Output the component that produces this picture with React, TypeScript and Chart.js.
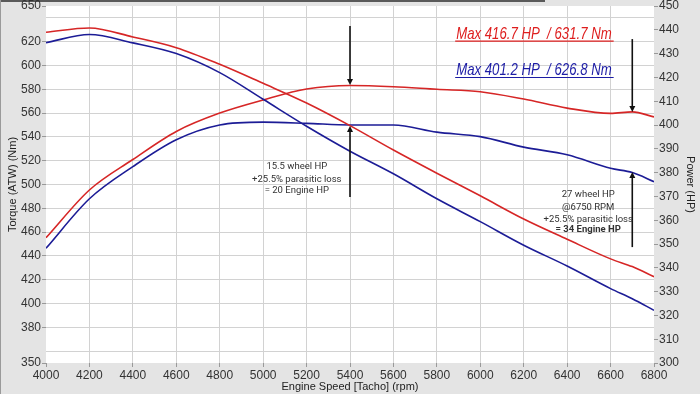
import React, { useEffect, useRef } from "react";
import { Chart, registerables } from "chart.js";

Chart.register(...registerables);

// ---------- data ----------
const rpm = [4000, 4200, 4400, 4600, 4800, 5000, 5200, 5400, 5600, 5800, 6000, 6200, 6400, 6600, 6700, 6800];

const redTorque = [628, 631.5, 624, 615, 601, 585, 568.5, 549.5, 529, 509.5, 490.5, 471, 454, 437.5, 431, 422.5];
const redPower = [352.6, 372.7, 385.5, 397.3, 405, 410.5, 415.1, 416.6, 416.1, 415, 414, 410.9, 407.1, 404.9, 405.5, 403.4];

const blueTorque = [619.2, 626, 619, 610, 594, 571.6, 549, 528, 509, 488, 468.8, 449, 431.5, 412.5, 404, 394.3];
const bluePower = [348.2, 369, 382.5, 393.8, 400, 401.2, 400.7, 400, 400, 397, 395.1, 390.7, 387.5, 381.8, 380, 376.2];

const rpmTicks = [4000, 4200, 4400, 4600, 4800, 5000, 5200, 5400, 5600, 5800, 6000, 6200, 6400, 6600, 6800];
const torqueTickLabels = [350, 380, 400, 420, 440, 460, 480, 500, 520, 540, 560, 580, 600, 620, 650];
const torqueGridLines = [360, 380, 400, 420, 440, 460, 480, 500, 520, 540, 560, 580, 600, 620, 640];
const powerTicks = [300, 310, 320, 330, 340, 350, 360, 370, 380, 390, 400, 410, 420, 430, 440, 450];

// annotations in data units (rpm, HP on right axis)
const arrowRpm = [5400, 5400, 6700, 6700];
const arrowFromHp = [441.6, 369.7, 436.1, 348.7];
const arrowToHp = [416.8, 399.6, 405.5, 380.2];

const note1Lines = ["15.5 wheel HP", "+25.5% parasitic loss", "= 20 Engine HP"];
const note1Rpm = 5155;
const note1Hp = [382.4, 376.9, 372.3];

const note2Lines = ["27 wheel HP", "@6750 RPM", "+25.5% parasitic loss", "= 34 Engine HP"];
const note2Rpm = 6497;
const note2Hp = [370.6, 365.1, 360.1, 355.9];

const legendTexts = ["Max 416.7 HP  / 631.7 Nm", "Max 401.2 HP  / 626.8 Nm"];
const legendRpm = 5889;
const legendEndRpm = 6605;
const legendHp = [436.1, 420.8];

// ---------- styles ----------
const RED = "rgb(214,38,38)";
const BLUE = "rgb(28,28,150)";
const RED_TEXT = "rgb(222,30,30)";
const BLUE_TEXT = "rgb(28,28,165)";
const PAGE_BG = "#e4e4e4";
const GRID = "#d2d2d2";
const TICK_TEXT = "#333333";
const TICK_FONT = { family: "'Liberation Sans', Arial, sans-serif", size: 12 };
const TITLE_FONT = { family: "'Liberation Sans', Arial, sans-serif", size: 11 };

const bgPlugin = {
  id: "bgPlugin",
  beforeDraw(chart: any) {
    const { ctx, width, height, chartArea: a } = chart;
    ctx.save();
    ctx.fillStyle = PAGE_BG;
    ctx.fillRect(0, 0, width, height);
    ctx.fillStyle = "#5a5a5a";
    ctx.fillRect(0, 0, 545, 2);
    ctx.fillStyle = "#9a9a9a";
    ctx.fillRect(0, 0, 1, height);
    ctx.fillStyle = "#ffffff";
    ctx.fillRect(a.left, a.top, a.right - a.left, a.bottom - a.top);
    ctx.restore();
  },
};

const annPlugin = {
  id: "annPlugin",
  afterDatasetsDraw(chart: any) {
    const { ctx } = chart;
    const xs = chart.scales.x;
    const ys = chart.scales.y1;
    ctx.save();
    // arrows
    for (let i = 0; i < arrowRpm.length; i++) {
      const x = xs.getPixelForValue(arrowRpm[i]);
      const y0 = ys.getPixelForValue(arrowFromHp[i]);
      const y1 = ys.getPixelForValue(arrowToHp[i]);
      const dir = y1 > y0 ? 1 : -1;
      ctx.strokeStyle = "#111";
      ctx.fillStyle = "#111";
      ctx.lineWidth = 1.6;
      ctx.beginPath();
      ctx.moveTo(x, y0);
      ctx.lineTo(x, y1 - dir * 4);
      ctx.stroke();
      ctx.beginPath();
      ctx.moveTo(x, y1);
      ctx.lineTo(x - 3, y1 - dir * 6);
      ctx.lineTo(x + 3, y1 - dir * 6);
      ctx.closePath();
      ctx.fill();
    }
    // notes
    ctx.textAlign = "center";
    ctx.textBaseline = "middle";
    ctx.fillStyle = "#333";
    const nx1 = xs.getPixelForValue(note1Rpm);
    note1Lines.forEach((t, i) => {
      ctx.font = "9.5px Roboto, 'Liberation Sans', sans-serif";
      ctx.fillText(t, nx1, ys.getPixelForValue(note1Hp[i]));
    });
    const nx2 = xs.getPixelForValue(note2Rpm);
    note2Lines.forEach((t, i) => {
      ctx.font = (i === note2Lines.length - 1 ? "bold " : "") + "9.5px Roboto, 'Liberation Sans', sans-serif";
      ctx.fillText(t, nx2, ys.getPixelForValue(note2Hp[i]));
    });
    // legend texts (condensed by horizontal scaling)
    const lx = xs.getPixelForValue(legendRpm);
    const lxEnd = xs.getPixelForValue(legendEndRpm);
    const colors = [RED_TEXT, BLUE_TEXT];
    ctx.textAlign = "left";
    ctx.textBaseline = "alphabetic";
    legendTexts.forEach((t, i) => {
      const by = ys.getPixelForValue(legendHp[i]);
      ctx.font = "italic 16.5px 'Liberation Sans', Arial, sans-serif";
      const w = ctx.measureText(t).width;
      const sx = (lxEnd - lx) / w;
      ctx.save();
      ctx.translate(lx, by);
      ctx.scale(sx, 1);
      ctx.fillStyle = colors[i];
      ctx.fillText(t, 0, 0);
      ctx.restore();
      ctx.strokeStyle = colors[i];
      ctx.lineWidth = 1.2;
      ctx.beginPath();
      ctx.moveTo(lx - 1, by + 2);
      ctx.lineTo(lxEnd + 2, by + 2);
      ctx.stroke();
    });
    ctx.restore();
  },
};

export default function App() {
  const ref = useRef<HTMLCanvasElement | null>(null);

  useEffect(() => {
    document.body.style.margin = "0";
    const canvas = ref.current;
    if (!canvas) return;
    const pts = (ys: number[]) => rpm.map((r, i) => ({ x: r, y: ys[i] }));
    const chart = new Chart(canvas, {
      type: "line",
      data: {
        datasets: [
          { label: "Torque red", data: pts(redTorque), yAxisID: "y", borderColor: RED, borderWidth: 1.6, pointRadius: 0, cubicInterpolationMode: "monotone" },
          { label: "Torque blue", data: pts(blueTorque), yAxisID: "y", borderColor: BLUE, borderWidth: 1.6, pointRadius: 0, cubicInterpolationMode: "monotone" },
          { label: "Power red", data: pts(redPower), yAxisID: "y1", borderColor: RED, borderWidth: 1.6, pointRadius: 0, cubicInterpolationMode: "monotone" },
          { label: "Power blue", data: pts(bluePower), yAxisID: "y1", borderColor: BLUE, borderWidth: 1.6, pointRadius: 0, cubicInterpolationMode: "monotone" },
        ],
      },
      options: {
        responsive: false,
        animation: false,
        layout: { padding: { top: 6, left: 0, right: 0, bottom: 0 } },
        plugins: { legend: { display: false }, tooltip: { enabled: false } },
        scales: {
          x: {
            type: "linear",
            min: 4000,
            max: 6800,
            afterBuildTicks: (s: any) => { s.ticks = rpmTicks.map((v) => ({ value: v })); },
            afterFit: (s: any) => { s.height = 31; s.paddingLeft = 0; s.paddingRight = 0; },
            ticks: { font: TICK_FONT, color: TICK_TEXT, padding: 1, maxRotation: 0, autoSkip: false, callback: (v: any) => String(v) },
            grid: {
              color: (c: any) => (c.tick && (c.tick.value === 4000 || c.tick.value === 6800) ? "rgba(0,0,0,0)" : GRID),
              tickColor: "#999",
              tickLength: 4,
            },
            border: { display: false },
            title: { display: true, text: "Engine Speed [Tacho] (rpm)", font: TITLE_FONT, color: "#222", padding: { top: 0, bottom: 0 } },
          },
          y: {
            type: "linear",
            position: "left",
            min: 350,
            max: 650,
            afterBuildTicks: (s: any) => {
              const vals = Array.from(new Set([...torqueTickLabels, ...torqueGridLines])).sort((a, b) => a - b);
              s.ticks = vals.map((v) => ({ value: v }));
            },
            afterFit: (s: any) => { s.width = 46; s.paddingTop = 0; s.paddingBottom = 0; },
            ticks: {
              font: TICK_FONT,
              color: TICK_TEXT,
              padding: 1,
              autoSkip: false,
              callback: (v: any) => (torqueTickLabels.includes(Number(v)) ? String(v) : ""),
            },
            grid: {
              color: (c: any) => (c.tick && torqueGridLines.includes(c.tick.value) ? GRID : "rgba(0,0,0,0)"),
              tickColor: (c: any) => (c.tick && torqueTickLabels.includes(c.tick.value) ? "#999" : "rgba(0,0,0,0)"),
              tickLength: 4,
            },
            border: { display: false },
            title: { display: true, text: "Torque (ATW) (Nm)", font: TITLE_FONT, color: "#222", padding: { top: 6, bottom: 0 } },
          },
          y1: {
            type: "linear",
            position: "right",
            min: 300,
            max: 450,
            afterBuildTicks: (s: any) => { s.ticks = powerTicks.map((v) => ({ value: v })); },
            afterFit: (s: any) => { s.width = 46; s.paddingTop = 0; s.paddingBottom = 0; },
            ticks: { font: TICK_FONT, color: TICK_TEXT, padding: 1, autoSkip: false, callback: (v: any) => String(v) },
            grid: { drawOnChartArea: false, tickColor: "#999", tickLength: 4 },
            border: { display: false },
            title: { display: true, text: "Power (HP)", font: TITLE_FONT, color: "#222", padding: { top: 3, bottom: 0 } },
          },
        },
      },
      plugins: [bgPlugin, annPlugin],
    } as any);
    return () => chart.destroy();
  }, []);

  return (
    <div style={{ width: 700, height: 394 }}>
      <canvas ref={ref} width={700} height={394} style={{ display: "block" }} />
    </div>
  );
}
